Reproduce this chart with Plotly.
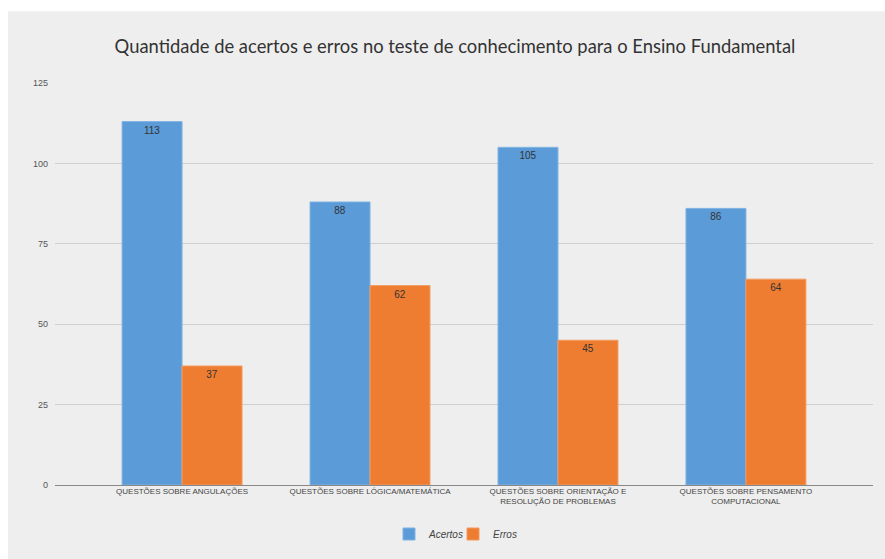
import plotly.graph_objects as go

categories = [
    "QUESTÕES SOBRE ANGULAÇÕES",
    "QUESTÕES SOBRE LÓGICA/MATEMÁTICA",
    "QUESTÕES SOBRE ORIENTAÇÃO E<br>RESOLUÇÃO DE PROBLEMAS",
    "QUESTÕES SOBRE PENSAMENTO<br>COMPUTACIONAL",
]
acertos = [113, 88, 105, 86]
erros = [37, 62, 45, 64]
y_ticks = [0, 25, 50, 75, 100, 125]

W, H = 885, 559
L, R, T, B = 55, 12, 83, 73
pw, ph = W - L - R, H - T - B

def px(x):
    return (x - L) / pw

def py(y):
    return (H - B - y) / ph

fig = go.Figure()
common = dict(
    textposition="inside",
    insidetextanchor="end",
    textfont=dict(size=10, color="#333333", family="Liberation Sans"),
    constraintext="none",
    textangle=0,
)
fig.add_trace(go.Bar(name="Acertos", x=categories, y=acertos, text=acertos,
                     marker=dict(color="#5b9bd8", line=dict(color="#7fb3e3", width=1)), **common))
fig.add_trace(go.Bar(name="Erros", x=categories, y=erros, text=erros,
                     marker=dict(color="#ee7d31", line=dict(color="#f39a5e", width=1)), **common))

fig.update_layout(
    width=W, height=H,
    margin=dict(l=L, r=R, t=T, b=B, pad=0),
    paper_bgcolor="white",
    plot_bgcolor="rgba(0,0,0,0)",
    barmode="group",
    bargap=0.362,
    bargroupgap=0,
    title=dict(
        text="Quantidade de acertos e erros no teste de conhecimento para o Ensino Fundamental",
        xref="container", x=455 / W, xanchor="center", y=1 - 47 / H, yanchor="middle",
        font=dict(family="Lato", size=18.4, color="#333333"),
    ),
    font=dict(family="Liberation Sans"),
    showlegend=True,
    legend=dict(
        orientation="h", x=px(389), xanchor="left", y=py(534), yanchor="middle",
        font=dict(size=10, color="#444444", style="italic", family="Liberation Sans"),
        bgcolor="rgba(0,0,0,0)",
        entrywidth=19, entrywidthmode="pixels",
    ),
    xaxis=dict(
        range=[-0.676, 3.676],
        tickfont=dict(size=8, color="#444444", family="Liberation Sans"),
        showgrid=False,
        showline=False,
        ticks="",
    ),
    yaxis=dict(
        range=[0, 125],
        tickvals=y_ticks,
        tickfont=dict(size=9, color="#555555"),
        gridcolor="#cfcfcf",
        gridwidth=1,
        zeroline=True,
        zerolinecolor="#888888",
        zerolinewidth=1,
        showline=False,
        ticks="",
        ticklabelstandoff=6,
    ),
    shapes=[
        dict(type="rect", xref="paper", yref="paper",
             x0=px(8), x1=px(W + 5), y0=py(H + 5), y1=py(11),
             fillcolor="#eeeeee", line=dict(width=0), layer="below"),
    ],
)

fig.write_html("out.html")
